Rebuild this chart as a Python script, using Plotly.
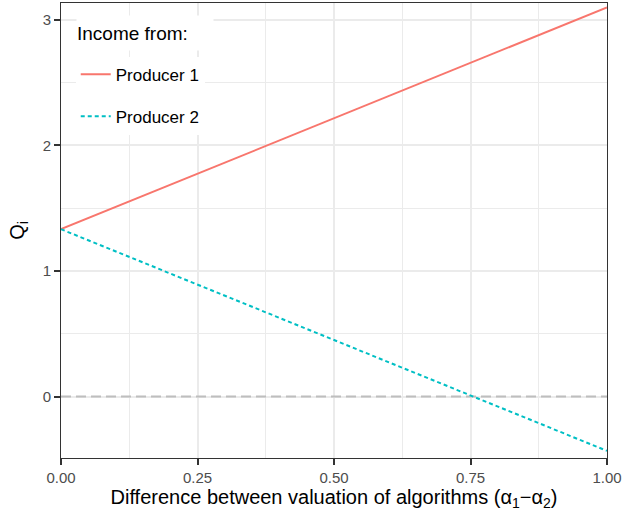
import plotly.graph_objects as go

x_vals = [0.0, 0.25, 0.5, 0.75, 1.0]
producer1 = [1.333, 1.775, 2.217, 2.658, 3.1]
producer2 = [1.333, 0.892, 0.450, 0.008, -0.433]
zero_x = [0.0, 1.0]
zero_y = [0.0, 0.0]
x_ticks = [0.0, 0.25, 0.5, 0.75, 1.0]
x_tick_labels = ["0.00", "0.25", "0.50", "0.75", "1.00"]
y_ticks = [0, 1, 2, 3]
legend_title = "Income from:"

FONT = "Liberation Sans, Arial, sans-serif"

fig = go.Figure()
fig.add_trace(go.Scatter(x=zero_x, y=zero_y, mode="lines", showlegend=False,
                         line=dict(color="#BEBEBE", width=2, dash="10px,5px"), hoverinfo="skip"))
fig.add_trace(go.Scatter(x=x_vals, y=producer1, mode="lines", name="Producer 1",
                         legendgroup="p1", line=dict(color="#F8766D", width=2)))
fig.add_trace(go.Scatter(x=x_vals, y=producer2, mode="lines", name="Producer 2",
                         legendgroup="p2", line=dict(color="#00BFC4", width=2, dash="4px,3px")))

axis_common = dict(
    showline=True, linecolor="#333333", linewidth=1, mirror=True,
    ticks="outside", ticklen=6, tickcolor="#333333", tickwidth=1.5,
    tickfont=dict(family=FONT, size=15, color="#4D4D4D"),
    gridcolor="#EBEBEB", gridwidth=1.5, zeroline=False,
)

fig.update_layout(
    width=624, height=515,
    margin=dict(l=61, r=15, t=2, b=57),
    paper_bgcolor="white", plot_bgcolor="white",
    font=dict(family=FONT, color="black"),
    xaxis=dict(range=[0, 1], tickvals=x_ticks, ticktext=x_tick_labels,
               title=dict(text="Difference between valuation of algorithms (α<sub>1</sub>−α<sub>2</sub>)",
                          font=dict(size=20), standoff=3),
               minor=dict(dtick=0.125, tick0=0, showgrid=True, gridcolor="#EBEBEB", gridwidth=0.8, ticks=""),
               **axis_common),
    yaxis=dict(range=[-0.49, 3.135], tickvals=y_ticks,
               title=dict(text="Q<sub>i</sub>", font=dict(size=20), standoff=12),
               minor=dict(dtick=0.5, tick0=0, showgrid=True, gridcolor="#EBEBEB", gridwidth=0.8, ticks=""),
               **axis_common),
    legend=dict(x=0.027, y=0.882, xanchor="left", yanchor="top",
                bgcolor="white", borderwidth=0,
                font=dict(size=17), tracegroupgap=17, traceorder="grouped"),
    annotations=[dict(text=legend_title, xref="paper", yref="paper", x=0.027, y=0.933,
                      xanchor="left", yanchor="middle", showarrow=False, align="left",
                      font=dict(size=19, color="black"), bgcolor="white",
                      width=136, height=34, borderpad=0)],
)

fig.write_html("out.html")
